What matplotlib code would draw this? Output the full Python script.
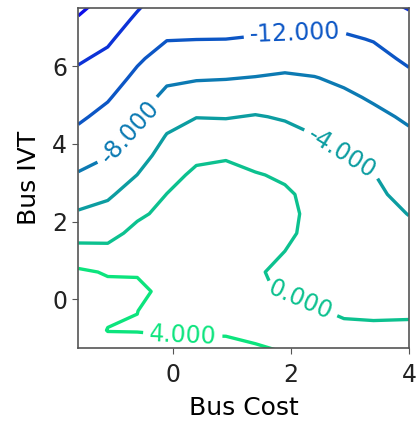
import numpy as np
import matplotlib.pyplot as plt
from matplotlib import colormaps

# grid of the surface: bus cost (columns) by bus in-vehicle time (rows)
bus_cost = [-1.6, -1.1, -0.6, -0.1, 0.4, 0.9, 1.4, 1.9, 2.4, 2.9, 3.4, 4.0]
bus_ivt = [-1.3, -0.8, -0.3, 0.2, 0.7, 1.2, 1.7, 2.2, 2.7, 3.2,
           3.7, 4.2, 4.7, 5.2, 5.7, 6.2, 6.7, 7.2, 7.7]

# one list per bus-cost column, bottom to top
col_m16 = [6.5, 6.3, 6.0, 5.5, 4.6, 1.36, -1.38, -3.6, -5.67, -7.71, -9.43, -11.1, -12.58, -13.84, -15.09, -16.45, -18.06, -19.68, -21.3]
col_m11 = [5.5, 3.9, 4.6, 5.0, 3.7, 0.99, -1.07, -2.79, -4.55, -6.36, -8.14, -9.54, -10.94, -12.34, -13.76, -15.18, -16.56, -17.88, -19.2]
col_m06 = [5.0, 3.9, 4.02, 4.8, 3.69, 2.30, 0.92, -0.58, -2.27, -3.97, -5.52, -7.07, -8.53, -9.85, -11.18, -12.55, -13.99, -15.42, -16.8]
col_m01 = [5.4, 3.6, 3.3, 3.1, 2.8, 2.3, 1.6, 0.85, 0.05, -1.23, -2.51, -3.79, -5.38, -7.02, -8.70, -10.46, -12.14, -13.35, -14.55]
col_p04 = [5.0, 3.6, 3.4, 3.2, 3.0, 2.8, 2.4, 1.8, 1.1, 0.7, -0.73, -2.4, -4.09, -6.21, -8.30, -10.17, -12.04, -13.3, -14.5]
col_p09 = [4.9, 3.6, 3.4, 3.2, 3.1, 2.9, 2.6, 2.1, 1.5, 0.9, -0.31, -2.25, -4.2, -6.18, -8.15, -10.08, -12.0, -13.3, -14.5]
col_p14 = [4.4, 3.1, 1.8, 0.36, 0.3, 1.0, 1.6, 1.7, 1.3, 0.2, -1.12, -2.45, -3.79, -5.77, -7.87, -9.84, -11.8, -13.0, -14.2]
col_p19 = [3.8, 2.4, 1.0, -0.22, -0.6, -0.05, 0.6, 0.8, 0.4, -0.4, -1.74, -2.98, -4.29, -5.89, -7.49, -9.42, -11.5, -13.2, -14.4]
col_p24 = [2.6, 1.5, 0.25, -0.6, -1.0, -1.0, -0.9, -0.8, -0.78, -1.6, -2.8, -3.9, -5.2, -6.53, -7.87, -9.61, -11.39, -13.0, -14.2]
col_p29 = [1.6, 0.6, -0.4, -1.0, -1.4, -1.7, -2.0, -2.3, -2.8, -3.4, -3.9, -5.03, -6.2, -7.37, -8.66, -10.09, -11.51, -13.1, -14.4]
col_p34 = [1.3, 0.5, -0.5, -1.1, -1.6, -2.0, -2.5, -3.0, -3.4, -3.9, -4.92, -6.07, -7.22, -8.4, -9.65, -10.9, -12.19, -13.78, -15.4]
col_p40 = [1.3, 0.5, -0.4, -1.1, -1.85, -2.59, -3.33, -4.07, -4.93, -5.77, -6.62, -7.46, -8.5, -9.88, -11.26, -12.62, -13.97, -15.32, -16.68]

levels = [-20, -16, -12, -8, -4, 0, 4]
# where the -12, -8, -4, 0 and 4 labels sit
label_spots = [(2.07, 6.87), (-0.73, 4.3), (2.88, 3.8), (2.15, -0.1), (0.17, -0.93)]

Z = np.column_stack([col_m16, col_m11, col_m06, col_m01, col_p04, col_p09,
                     col_p14, col_p19, col_p24, col_p29, col_p34, col_p40])
X, Y = np.meshgrid(bus_cost, bus_ivt)

# winter colours, toned down a little
winter = colormaps['winter']
muted = np.array([0.30, 0.35, 0.45])
line_colors = [tuple(0.84 * np.array(winter(i / (len(levels) - 1))[:3]) + 0.16 * muted)
               for i in range(len(levels))]

plt.rcParams['font.size'] = 17
fig = plt.figure(figsize=(4.16, 4.23), dpi=100)
ax = fig.add_axes([0.188, 0.177, 0.795, 0.804])

cs = ax.contour(X, Y, Z, levels=levels, colors=line_colors, linewidths=2.4)
ax.clabel(cs, fmt='%1.3f', fontsize=17, inline=True,
          inline_spacing=6, manual=label_spots)

ax.set_xlim(-1.6, 4.0)
ax.set_ylim(-1.26, 7.5)
ax.set_xticks([0, 2, 4])
ax.set_yticks([0, 2, 4, 6])
ax.set_xlabel('Bus Cost', fontsize=18, labelpad=6)
ax.set_ylabel('Bus IVT', fontsize=18, labelpad=8)
for s in ax.spines.values():
    s.set_color('#555555')
    s.set_linewidth(1.2)
ax.tick_params(color='#555555', labelcolor='#222222', length=4)
ax.tick_params(axis='x', pad=7)
ax.tick_params(axis='y', pad=4)

fig.savefig('out.png', dpi=100)
